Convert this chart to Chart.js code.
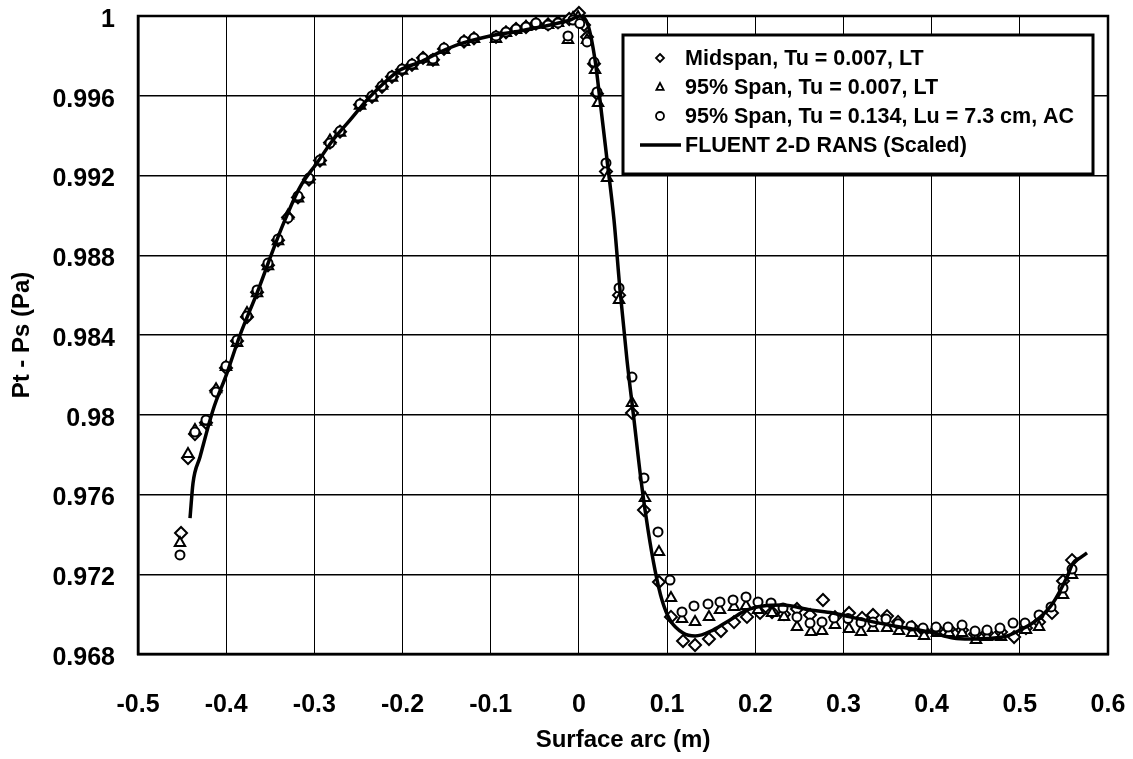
<!DOCTYPE html>
<html>
<head>
<meta charset="utf-8">
<title>Pt - Ps vs Surface arc</title>
<script src="https://cdn.jsdelivr.net/npm/chart.js@4.4.1/dist/chart.umd.min.js"></script>
<style>
  html, body { margin: 0; padding: 0; background: #fff; }
  #wrap { width: 1133px; height: 759px; }
</style>
</head>
<body>
<div id="wrap"><canvas id="chart" width="1133" height="759"></canvas></div>
<script>
'use strict';

// Axis ticks (surface arc in m, pressure difference in Pa)
const xTicks = [-0.5, -0.4, -0.3, -0.2, -0.1, 0, 0.1, 0.2, 0.3, 0.4, 0.5, 0.6];
const xTickLabels = ['-0.5', '-0.4', '-0.3', '-0.2', '-0.1', '0', '0.1', '0.2', '0.3', '0.4', '0.5', '0.6'];
const yTicks = [0.968, 0.972, 0.976, 0.98, 0.984, 0.988, 0.992, 0.996, 1];
const yTickLabels = ['0.968', '0.972', '0.976', '0.98', '0.984', '0.988', '0.992', '0.996', '1'];

const seriesLabels = [
  'Midspan, Tu = 0.007, LT',
  '95% Span, Tu = 0.007, LT',
  '95% Span, Tu = 0.134, Lu = 7.3 cm, AC',
  'FLUENT 2-D RANS (Scaled)',
];

// [surface arc, Pt - Ps]
const midspan = [
  [-0.4512, 0.97407], [-0.4433, 0.97783], [-0.4354, 0.97903], [-0.4229, 0.97960], [-0.4115, 0.98120],
  [-0.4002, 0.98235], [-0.3877, 0.98370], [-0.3764, 0.98490], [-0.3650, 0.98615], [-0.3526, 0.98750],
  [-0.3412, 0.98875], [-0.3299, 0.98990], [-0.3186, 0.99090], [-0.3061, 0.99180], [-0.2936, 0.99275],
  [-0.2823, 0.99365], [-0.2709, 0.99420], [-0.2482, 0.99555], [-0.2346, 0.99595], [-0.2233, 0.99645],
  [-0.2120, 0.99695], [-0.2006, 0.99730], [-0.1893, 0.99755], [-0.1768, 0.99790], [-0.1655, 0.99780],
  [-0.1530, 0.99835], [-0.1303, 0.99872], [-0.1190, 0.99888], [-0.0940, 0.99895], [-0.0827, 0.99918],
  [-0.0713, 0.99935], [-0.0600, 0.99945], [-0.0487, 0.99962], [-0.0350, 0.99958], [-0.0237, 0.99968],
  [-0.0110, 0.99985], [0.0000, 1.00015], [0.0058, 0.99955], [0.0092, 0.99895], [0.0171, 0.99760],
  [0.0205, 0.99610], [0.0307, 0.99220], [0.0455, 0.98600], [0.0602, 0.98009], [0.0738, 0.97522],
  [0.0908, 0.97161], [0.1044, 0.96986], [0.1181, 0.96865], [0.1317, 0.96845], [0.1475, 0.96875],
  [0.1611, 0.96915], [0.1759, 0.96960], [0.1906, 0.96986], [0.2054, 0.97006], [0.2190, 0.97010],
  [0.2326, 0.97000], [0.2473, 0.97026], [0.2621, 0.96996], [0.2768, 0.97071], [0.2904, 0.96985],
  [0.3063, 0.97006], [0.3211, 0.96981], [0.3335, 0.96996], [0.3494, 0.96990], [0.3619, 0.96961],
  [0.3778, 0.96935], [0.3914, 0.96915], [0.4061, 0.96925], [0.4197, 0.96925], [0.4345, 0.96920],
  [0.4492, 0.96900], [0.4628, 0.96905], [0.4787, 0.96910], [0.4935, 0.96885], [0.5070, 0.96930],
  [0.5218, 0.96960], [0.5365, 0.97006], [0.5490, 0.97166], [0.5592, 0.97271],
];

const span95Low = [
  [-0.4524, 0.97357], [-0.4433, 0.97803], [-0.4354, 0.97923], [-0.4229, 0.97965], [-0.4115, 0.98128],
  [-0.4002, 0.98240], [-0.3877, 0.98360], [-0.3764, 0.98510], [-0.3650, 0.98610], [-0.3526, 0.98745],
  [-0.3412, 0.98870], [-0.3299, 0.99000], [-0.3186, 0.99085], [-0.3061, 0.99180], [-0.2936, 0.99270],
  [-0.2823, 0.99375], [-0.2709, 0.99415], [-0.2482, 0.99550], [-0.2346, 0.99590], [-0.2233, 0.99650],
  [-0.2120, 0.99690], [-0.2006, 0.99725], [-0.1893, 0.99750], [-0.1768, 0.99785], [-0.1655, 0.99770],
  [-0.1530, 0.99830], [-0.1303, 0.99870], [-0.1190, 0.99885], [-0.0940, 0.99885], [-0.0827, 0.99915],
  [-0.0713, 0.99930], [-0.0600, 0.99945], [-0.0487, 0.99960], [-0.0350, 0.99955], [-0.0237, 0.99965],
  [-0.0124, 0.99880], [-0.0067, 0.99990], [-0.0010, 0.99995], [0.0092, 0.99880], [0.0183, 0.99729],
  [0.0217, 0.99564], [0.0319, 0.99187], [0.0455, 0.98576], [0.0602, 0.98059], [0.0749, 0.97582],
  [0.0908, 0.97312], [0.1044, 0.97081], [0.1169, 0.96976], [0.1317, 0.96960], [0.1475, 0.96986],
  [0.1600, 0.97021], [0.1759, 0.97036], [0.1895, 0.97041], [0.2031, 0.97021], [0.2190, 0.97006],
  [0.2326, 0.96986], [0.2473, 0.96935], [0.2632, 0.96910], [0.2757, 0.96915], [0.2904, 0.96945],
  [0.3063, 0.96925], [0.3199, 0.96910], [0.3335, 0.96930], [0.3494, 0.96930], [0.3630, 0.96915],
  [0.3778, 0.96905], [0.3914, 0.96890], [0.4061, 0.96905], [0.4197, 0.96905], [0.4345, 0.96905],
  [0.4503, 0.96870], [0.4628, 0.96885], [0.4787, 0.96885], [0.5070, 0.96920], [0.5218, 0.96935],
  [0.5490, 0.97096], [0.5592, 0.97196],
];

const span95High = [
  [-0.4524, 0.97297], [-0.4354, 0.97913], [-0.4229, 0.97974], [-0.4115, 0.98114], [-0.4002, 0.98244],
  [-0.3877, 0.98375], [-0.3764, 0.98495], [-0.3650, 0.98626], [-0.3526, 0.98761], [-0.3412, 0.98882],
  [-0.3299, 0.98987], [-0.3186, 0.99097], [-0.3061, 0.99187], [-0.2936, 0.99278], [-0.2823, 0.99363],
  [-0.2709, 0.99423], [-0.2482, 0.99559], [-0.2346, 0.99599], [-0.2233, 0.99649], [-0.2120, 0.99699],
  [-0.2006, 0.99734], [-0.1893, 0.99759], [-0.1768, 0.99789], [-0.1655, 0.99784], [-0.1530, 0.99839],
  [-0.1303, 0.99875], [-0.1190, 0.99890], [-0.0940, 0.99900], [-0.0827, 0.99920], [-0.0713, 0.99935],
  [-0.0600, 0.99945], [-0.0487, 0.99965], [-0.0350, 0.99955], [-0.0237, 0.99965], [-0.0124, 0.99900],
  [-0.0067, 0.99980], [0.0010, 0.99962], [0.0092, 0.99870], [0.0171, 0.99769], [0.0205, 0.99619],
  [0.0307, 0.99263], [0.0455, 0.98636], [0.0602, 0.98189], [0.0738, 0.97683], [0.0897, 0.97412],
  [0.1033, 0.97171], [0.1169, 0.97011], [0.1305, 0.97041], [0.1464, 0.97051], [0.1600, 0.97061],
  [0.1748, 0.97071], [0.1895, 0.97086], [0.2031, 0.97061], [0.2179, 0.97056], [0.2315, 0.97031],
  [0.2473, 0.96986], [0.2621, 0.96955], [0.2757, 0.96961], [0.2893, 0.96981], [0.3052, 0.96978],
  [0.3199, 0.96958], [0.3335, 0.96961], [0.3483, 0.96975], [0.3619, 0.96952], [0.3766, 0.96940],
  [0.3902, 0.96930], [0.4050, 0.96935], [0.4186, 0.96935], [0.4345, 0.96945], [0.4492, 0.96915],
  [0.4628, 0.96920], [0.4775, 0.96930], [0.4923, 0.96955], [0.5059, 0.96955], [0.5218, 0.96996],
  [0.5354, 0.97036], [0.5490, 0.97131], [0.5592, 0.97226],
];

const fluent = [
  [-0.4410, 0.97482], [-0.4376, 0.97658], [-0.4297, 0.97788], [-0.4149, 0.98024], [-0.3991, 0.98209],
  [-0.3843, 0.98400], [-0.3650, 0.98611], [-0.3469, 0.98826], [-0.3350, 0.98960], [-0.3163, 0.99142],
  [-0.2970, 0.99263], [-0.2789, 0.99378], [-0.2596, 0.99478], [-0.2403, 0.99579], [-0.2222, 0.99659],
  [-0.2029, 0.99729], [-0.1802, 0.99769], [-0.1575, 0.99819], [-0.1348, 0.99860], [-0.1008, 0.99900],
  [-0.0668, 0.99925], [-0.0328, 0.99955], [-0.0101, 0.99980], [0.0013, 1.00000], [0.0103, 0.99955],
  [0.0183, 0.99779], [0.0239, 0.99579], [0.0319, 0.99278], [0.0398, 0.98977], [0.0466, 0.98626],
  [0.0545, 0.98275], [0.0625, 0.97974], [0.0704, 0.97673], [0.0784, 0.97422], [0.0863, 0.97221],
  [0.0942, 0.97071], [0.1033, 0.96971], [0.1181, 0.96905], [0.1317, 0.96890], [0.1521, 0.96920],
  [0.1714, 0.96971], [0.1906, 0.97021], [0.2088, 0.97041], [0.2315, 0.97046], [0.2621, 0.97021],
  [0.2882, 0.97006], [0.3074, 0.96986], [0.3335, 0.96961], [0.3641, 0.96935], [0.3982, 0.96910],
  [0.4242, 0.96880], [0.4435, 0.96875], [0.4809, 0.96885], [0.5002, 0.96920], [0.5195, 0.96971],
  [0.5376, 0.97056], [0.5535, 0.97186], [0.5603, 0.97256], [0.5683, 0.97282], [0.5762, 0.97307],
];

const FONT = "'Liberation Sans', Arial, sans-serif";
const toXY = (pts) => pts.map(([x, y]) => ({ x, y }));

function markerSet(label, data, style, radius, order) {
  return {
    type: 'scatter', label, data: toXY(data), order,
    pointStyle: style, pointRadius: radius, pointBorderWidth: 2,
    pointBorderColor: '#000', pointBackgroundColor: '#fff', clip: false,
  };
}

// Plot frame drawn under the markers
const framePlugin = {
  id: 'frame',
  beforeDatasetsDraw(chart) {
    const { ctx, chartArea: a } = chart;
    ctx.save();
    ctx.lineWidth = 2.5;
    ctx.strokeStyle = '#000';
    ctx.strokeRect(a.left, a.top, a.right - a.left, a.bottom - a.top);
    ctx.restore();
  },
};

function drawMarker(ctx, style, x, y, r) {
  ctx.beginPath();
  if (style === 'circle') {
    ctx.arc(x, y, r, 0, Math.PI * 2);
  } else if (style === 'triangle') {
    ctx.moveTo(x, y - r);
    ctx.lineTo(x + r * 0.9, y + r * 0.7);
    ctx.lineTo(x - r * 0.9, y + r * 0.7);
    ctx.closePath();
  } else {
    ctx.moveTo(x, y - r);
    ctx.lineTo(x + r, y);
    ctx.lineTo(x, y + r);
    ctx.lineTo(x - r, y);
    ctx.closePath();
  }
  ctx.fillStyle = '#fff';
  ctx.fill();
  ctx.stroke();
}

// Boxed legend in the upper right of the plot
const legendPlugin = {
  id: 'boxLegend',
  afterDraw(chart) {
    const { ctx, chartArea: a } = chart;
    const left = a.left + 485, top = a.top + 19, w = 470, h = 139;
    ctx.save();
    ctx.fillStyle = '#fff';
    ctx.fillRect(left, top, w, h);
    ctx.lineWidth = 3;
    ctx.strokeStyle = '#000';
    ctx.strokeRect(left, top, w, h);
    ctx.font = `bold 21.5px ${FONT}`;
    ctx.textBaseline = 'middle';
    const styles = ['diamond', 'triangle', 'circle', 'line'];
    styles.forEach((s, i) => {
      const cy = top + 23 + i * 29;
      ctx.strokeStyle = '#000';
      if (s === 'line') {
        ctx.lineWidth = 3.5;
        ctx.beginPath();
        ctx.moveTo(left + 17, cy);
        ctx.lineTo(left + 58, cy);
        ctx.stroke();
      } else {
        ctx.lineWidth = 1.8;
        drawMarker(ctx, s, left + 37, cy, 4);
      }
      ctx.fillStyle = '#000';
      ctx.fillText(seriesLabels[i], left + 62, cy + 1);
    });
    ctx.restore();
  },
};

new Chart(document.getElementById('chart'), {
  type: 'scatter',
  data: {
    datasets: [
      {
        type: 'line', label: seriesLabels[3], data: toXY(fluent), order: 0,
        borderColor: '#000', borderWidth: 3.5, pointRadius: 0,
        cubicInterpolationMode: 'monotone', fill: false, clip: false,
      },
      markerSet(seriesLabels[2], span95High, 'circle', 4.5, 1),
      markerSet(seriesLabels[1], span95Low, 'triangle', 6, 2),
      markerSet(seriesLabels[0], midspan, 'rectRot', 6, 3),
    ],
  },
  options: {
    responsive: false,
    animation: false,
    events: [],
    layout: { padding: { top: 16, right: 25, bottom: 0, left: 0 } },
    plugins: { legend: { display: false }, tooltip: { enabled: false } },
    scales: {
      x: {
        type: 'linear', min: -0.5, max: 0.6,
        afterBuildTicks: (s) => { s.ticks = xTicks.map(v => ({ value: v })); },
        afterFit: (s) => { s.height = 105; s.paddingLeft = 0; s.paddingRight = 0; },
        grid: { color: '#000', lineWidth: 1, drawTicks: false },
        border: { display: true, color: '#000', width: 2.5 },
        ticks: {
          padding: 36, color: '#000', maxRotation: 0,
          font: { family: FONT, size: 25, weight: 'bold' },
          callback: (v, i) => xTickLabels[i],
        },
        title: {
          display: true, text: 'Surface arc (m)', color: '#000',
          font: { family: FONT, size: 24, weight: 'bold' },
          padding: { top: 0, bottom: 4 },
        },
      },
      y: {
        type: 'linear', min: 0.968, max: 1,
        afterBuildTicks: (s) => { s.ticks = yTicks.map(v => ({ value: v })); },
        afterFit: (s) => { s.width = 138; s.paddingTop = 0; s.paddingBottom = 0; },
        grid: { color: '#000', lineWidth: 1.5, drawTicks: false },
        border: { display: true, color: '#000', width: 2.5 },
        ticks: {
          padding: 23, color: '#000', labelOffset: 4,
          font: { family: FONT, size: 25, weight: 'bold' },
          callback: (v, i) => yTickLabels[i],
        },
        title: {
          display: true, text: 'Pt - Ps (Pa)', color: '#000',
          font: { family: FONT, size: 24, weight: 'bold' },
          padding: { top: 8, bottom: 0 },
        },
      },
    },
  },
  plugins: [framePlugin, legendPlugin],
});
</script>
</body>
</html>
